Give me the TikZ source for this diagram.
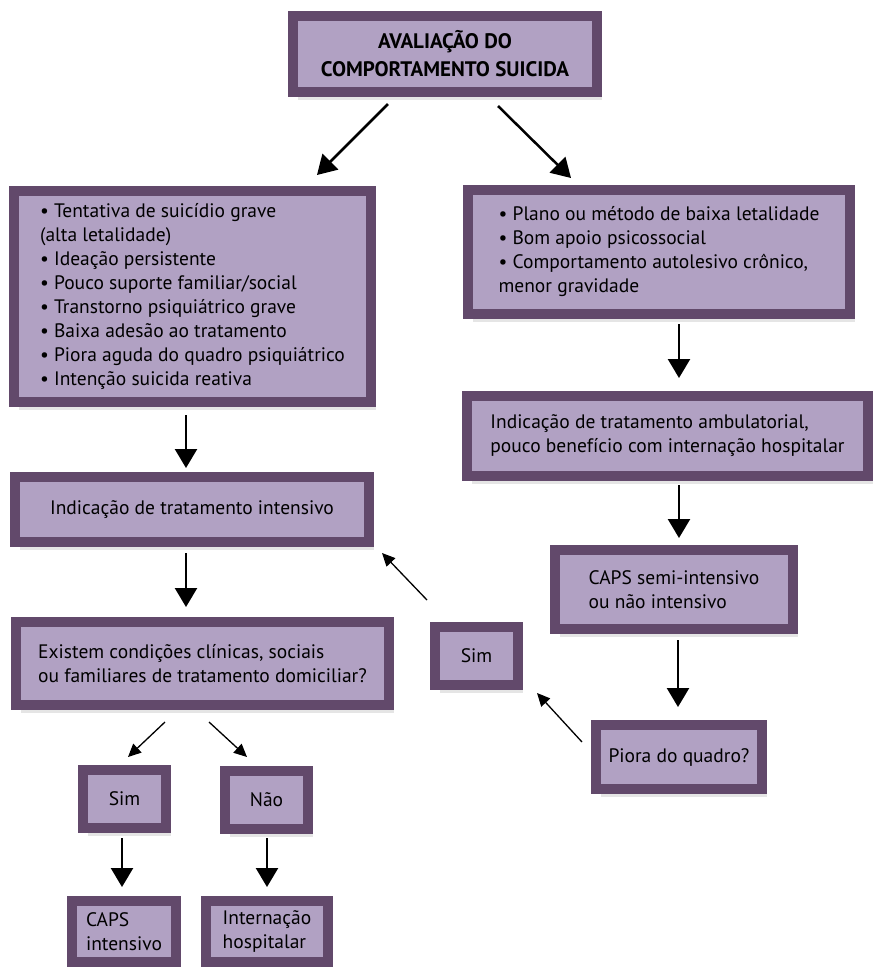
\documentclass[tikz,border=0pt]{standalone}
\usepackage{fontspec}
\setmainfont{PT Sans}
\usetikzlibrary{arrows.meta,calc,shadows}
\definecolor{boxborder}{RGB}{98,73,107}
\definecolor{boxfill}{RGB}{177,161,195}
\tikzset{
  flowbox/.style={
    rectangle, draw=boxborder, line width=10pt, fill=boxfill,
    align=left, inner sep=0pt, font=\fontsize{19.5}{24}\selectfont,
    drop shadow={shadow xshift=5pt, shadow yshift=-8pt, opacity=0.10, fill=black}
  },
  titlebox/.style={flowbox, align=center, font=\fontsize{21}{28}\selectfont\bfseries},
  bigarrow/.style={-{Triangle[width=22pt,length=19pt]}, line width=2.5pt},
  smallarrow/.style={-{Triangle[width=12pt,length=13pt]}, line width=1.3pt},
}
\begin{document}
\begin{tikzpicture}[x=1pt, y=-1pt]
  \useasboundingbox (0,0) rectangle (874,967);

  % -- top
  \node[titlebox, minimum width=304pt, minimum height=76pt] (title) at (445,54)
    {AVALIAÇÃO DO\\COMPORTAMENTO SUICIDA};

  % -- left column
  \node[flowbox, minimum width=357pt, minimum height=211pt] (risk) at (192.5,296.5)
    {• Tentativa de suicídio grave\\(alta letalidade)\\• Ideação persistente\\
     • Pouco suporte familiar/social\\• Transtorno psiquiátrico grave\\
     • Baixa adesão ao tratamento\\• Piora aguda do quadro psiquiátrico\\
     • Intenção suicida reativa};
  \node[flowbox, minimum width=354pt, minimum height=65pt] (intens) at (192,509.5)
    {Indicação de tratamento intensivo};
  \node[flowbox, minimum width=373pt, minimum height=83pt] (exist) at (202.5,663.5)
    {Existem condições clínicas, sociais\\ou familiares de tratamento domiciliar?};
  \node[flowbox, minimum width=83pt, minimum height=58pt] (simL) at (124.5,799) {Sim};
  \node[flowbox, minimum width=83pt, minimum height=58pt] (nao) at (266.5,800) {Não};
  \node[flowbox, minimum width=104pt, minimum height=61pt] (capsI) at (124,931.5)
    {CAPS\\intensivo};
  \node[flowbox, minimum width=122pt, minimum height=61pt] (intern) at (267,931.5)
    {Internação\\hospitalar};

  % -- right column
  \node[flowbox, minimum width=382pt, minimum height=124pt] (mild) at (659,252)
    {• Plano ou método de baixa letalidade\\• Bom apoio psicossocial\\
     • Comportamento autolesivo crônico,\\menor gravidade};
  \node[flowbox, minimum width=401pt, minimum height=80pt] (ambul) at (667.5,436)
    {Indicação de tratamento ambulatorial,\\pouco benefício com internação hospitalar};
  \node[flowbox, minimum width=238pt, minimum height=79pt] (capsS) at (674,589.5)
    {CAPS semi-intensivo\\ou não intensivo};
  \node[flowbox, minimum width=166pt, minimum height=64pt] (piora) at (679,757)
    {Piora do quadro?};
  \node[flowbox, minimum width=83pt, minimum height=58pt] (simR) at (476.5,656) {Sim};

  % -- arrows from the title
  \draw[bigarrow] ($(title.south)+(-57,7)$) -- ($(risk.north east)+(-59,-11)$);
  \draw[bigarrow] ($(title.south)+(53,9)$) -- ($(mild.north west)+(108,-7)$);

  % -- left column arrows
  \draw[bigarrow] ($(risk.south)+(-6.5,8)$) -- ($(intens.north)+(-6,-4)$);
  \draw[bigarrow] ($(intens.south)+(-6,6)$) -- ($(exist.north)+(-16.5,-10)$);
  \draw[smallarrow] ($(exist.south)+(-37.5,12)$) -- ($(simL.north)+(3.5,-8)$);
  \draw[smallarrow] ($(exist.south)+(6.5,12)$) -- ($(nao.north)+(-19.5,-9)$);
  \draw[bigarrow] ($(simL.south)+(-2.5,5)$) -- ($(capsI.north)+(-2,-9)$);
  \draw[bigarrow] ($(nao.south)+(0.5,4)$) -- ($(intern.north)+(0,-9)$);

  % -- right column arrows
  \draw[bigarrow] ($(mild.south)+(20,5)$) -- ($(ambul.north)+(11.5,-13)$);
  \draw[bigarrow] ($(ambul.south)+(11.5,4)$) -- ($(capsS.north)+(5,-7)$);
  \draw[bigarrow] ($(capsS.south)+(4,6)$) -- ($(piora.north)+(-1,-13)$);

  % -- loop back
  \draw[smallarrow] ($(piora.west)+(-9,-15)$) -- ($(simR.south east)+(14,3)$);
  \draw[smallarrow] ($(simR.north west)+(-3,-22)$) -- ($(intens.south east)+(8,6)$);

\end{tikzpicture}
\end{document}
